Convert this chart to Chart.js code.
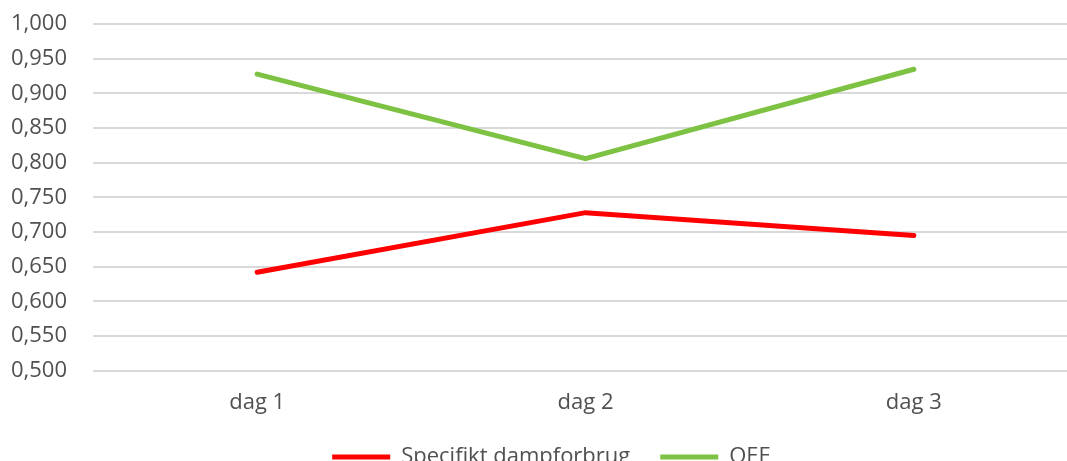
<!DOCTYPE html>
<html>
<head>
<meta charset="utf-8">
<script src="https://cdn.jsdelivr.net/npm/chart.js@4/dist/chart.umd.min.js"></script>
<style>
  html, body { margin: 0; padding: 0; background: #ffffff; overflow: hidden; }
  #wrap { position: absolute; left: 0; top: -15px; width: 1078px; height: 493px; }
</style>
</head>
<body>
<div id="wrap"><canvas id="c"></canvas></div>
<script>
const days = ['dag 1', 'dag 2', 'dag 3'];
const specifiktDampforbrug = [0.642, 0.728, 0.695];
const oee = [0.928, 0.806, 0.935];
const yMin = 0.5, yMax = 1.0, yStep = 0.05;

const textColor = '#505050';
const fontFamily = '"Open Sans", sans-serif';
const fontSize = 22;

// Nudges the bottom legend sideways after layout
const legendShift = {
  id: 'legendShift',
  afterLayout(chart) {
    const lg = chart.legend;
    if (lg) { lg.left += 20; lg.right += 20; }
  }
};

new Chart(document.getElementById('c'), {
  type: 'line',
  data: {
    labels: days,
    datasets: [
      { label: 'Specifikt dampforbrug', data: specifiktDampforbrug, borderColor: '#ff0000', backgroundColor: '#ff0000',
        borderWidth: 5, pointRadius: 0, tension: 0, borderCapStyle: 'round' },
      { label: 'OEE', data: oee, borderColor: '#7dc242', backgroundColor: '#7dc242',
        borderWidth: 5, pointRadius: 0, tension: 0, borderCapStyle: 'round' }
    ]
  },
  plugins: [legendShift],
  options: {
    responsive: true,
    maintainAspectRatio: false,
    animation: false,
    layout: { padding: { left: -15, right: 0, top: -4, bottom: 0 } },
    plugins: {
      tooltip: { enabled: false },
      legend: {
        position: 'bottom',
        labels: {
          color: textColor,
          font: { family: fontFamily, size: fontSize },
          boxWidth: 58,
          boxHeight: 5,
          padding: 30,
          generateLabels(chart) {
            return chart.data.datasets.map((ds, i) => ({
              text: ds.label,
              fillStyle: ds.borderColor,
              strokeStyle: ds.borderColor,
              lineWidth: 0,
              fontColor: textColor,
              datasetIndex: i,
              hidden: false
            }));
          }
        }
      }
    },
    scales: {
      x: {
        offset: true,
        grid: { display: false, drawTicks: false },
        border: { display: false },
        ticks: { color: textColor, font: { family: fontFamily, size: fontSize }, padding: 19 },
        afterFit(scale) { scale.height -= 19; }
      },
      y: {
        min: yMin,
        max: yMax,
        grid: { color: '#d9d9d9', lineWidth: 2, drawTicks: false },
        border: { display: false },
        ticks: {
          stepSize: yStep,
          color: textColor,
          font: { family: fontFamily, size: fontSize },
          padding: 26,
          callback: v => v.toFixed(3).replace('.', ',')
        }
      }
    }
  }
});
</script>
</body>
</html>
